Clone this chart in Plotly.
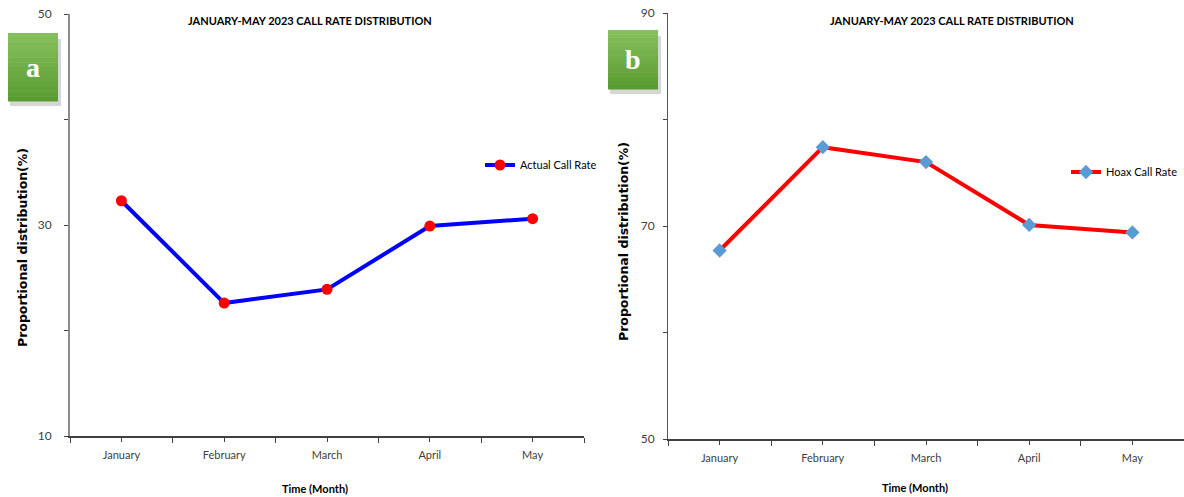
import plotly.graph_objects as go

months = ["January", "February", "March", "April", "May"]
actual_call_rate = [32.3, 22.6, 23.9, 29.9, 30.6]
hoax_call_rate = [67.7, 77.4, 76.0, 70.1, 69.4]
title_text = "JANUARY-MAY 2023 CALL RATE DISTRIBUTION"
y_title = "Proportional distribution(%)"
x_title = "Time (Month)"

W, H = 1184, 497
def px(x):
    return x / W
def py(y):
    return 1 - y / H

x_idx = list(range(len(months)))
NARROW = "Lato, Roboto, Liberation Sans, sans-serif"

fig = go.Figure()
fig.add_trace(go.Scatter(
    x=x_idx, y=actual_call_rate, name="Actual Call Rate", mode="lines+markers",
    line=dict(color="#0000ff", width=4),
    marker=dict(color="#ff0000", size=11, symbol="circle"),
    xaxis="x", yaxis="y", legend="legend"))
fig.add_trace(go.Scatter(
    x=x_idx, y=hoax_call_rate, name="Hoax Call Rate", mode="lines+markers",
    line=dict(color="#ff0000", width=4),
    marker=dict(color="#5b9bd5", size=11, symbol="diamond"),
    xaxis="x2", yaxis="y2", legend="legend2"))

def xaxis_cfg(domain, anchor):
    return dict(domain=domain, anchor=anchor, range=[-0.5, len(months) - 0.5],
                tickvals=x_idx, ticktext=months, ticks="outside", ticklen=4,
                tickcolor="#404040", showline=True, linecolor="#404040", linewidth=1.5,
                showgrid=False, zeroline=False, fixedrange=True, ticklabelstandoff=4,
                minor=dict(tick0=-0.5, dtick=1, ticks="outside", ticklen=5, tickcolor="#404040"),
                tickfont=dict(family=NARROW, size=11, color="#404040"))

def yaxis_cfg(domain, anchor, rng, vals, linecolor, lw, standoff):
    return dict(domain=domain, anchor=anchor, range=rng, tickvals=vals,
                ticks="outside", ticklen=4, tickcolor="#404040",
                showline=True, linecolor=linecolor, linewidth=lw,
                showgrid=False, zeroline=False, fixedrange=True, ticklabelstandoff=standoff,
                minor=dict(tick0=rng[0], dtick=10, ticks="outside", ticklen=4, tickcolor="#404040"),
                tickfont=dict(family=NARROW, size=12, color="#404040"))

fig.update_layout(
    width=W, height=H, margin=dict(l=0, r=0, t=0, b=0, autoexpand=False),
    paper_bgcolor="white", plot_bgcolor="white",
    xaxis=xaxis_cfg([px(70), px(584)], "y"),
    yaxis=yaxis_cfg([(H - 436) / H, (H - 14) / H], "x", [10, 50], [10, 30, 50], "#8c8c8c", 2, 10),
    xaxis2=xaxis_cfg([px(668), 1.0], "y2"),
    yaxis2=yaxis_cfg([(H - 439) / H, (H - 13) / H], "x2", [50, 90], [50, 70, 90], "#595959", 1, 6),
    legend=dict(x=px(480), y=py(165), xanchor="left", yanchor="middle",
                bgcolor="rgba(0,0,0,0)", itemwidth=30,
                font=dict(family=NARROW, size=11, color="#000000")),
    legend2=dict(x=px(1066), y=py(172), xanchor="left", yanchor="middle",
                 bgcolor="rgba(0,0,0,0)", itemwidth=30,
                 font=dict(family=NARROW, size=11, color="#000000")),
    showlegend=True,
)

annotations = []
for cx, ty in [(310, 20), (952, 21)]:
    annotations.append(dict(x=px(cx), y=py(ty), xref="paper", yref="paper", text=title_text,
                            showarrow=False, xanchor="center", yanchor="middle",
                            font=dict(family=NARROW, size=11, color="#000000", weight="bold")))
for cx, cy in [(23, 248), (623, 242)]:
    annotations.append(dict(x=px(cx), y=py(cy), xref="paper", yref="paper", text=y_title,
                            showarrow=False, textangle=-90, xanchor="center", yanchor="middle",
                            font=dict(family="DejaVu Sans, Verdana, sans-serif", size=12.5,
                                      color="#000000", weight="bold")))
for cx, cy in [(315, 488), (915, 487)]:
    annotations.append(dict(x=px(cx), y=py(cy), xref="paper", yref="paper", text=x_title,
                            showarrow=False, xanchor="center", yanchor="middle",
                            font=dict(family=NARROW, size=11, color="#000000", weight="bold")))

# green badges with a soft vertical gradient and drop shadow
top_rgb = (0x86, 0xc0, 0x5e)
bot_rgb = (0x5a, 0x9c, 0x30)
n_bands = 14
shapes = []
for (x0, y0, x1, y1, letter) in [(8, 33, 58, 101, "a"), (608, 30, 658, 89, "b")]:
    shapes.append(dict(type="rect", xref="paper", yref="paper",
                       x0=px(x0 + 2), x1=px(x1 + 3), y0=py(y1 + 5), y1=py(y0 + 6),
                       fillcolor="rgba(0,0,0,0.16)", line=dict(width=0), layer="below"))
    bh = (y1 - y0) / n_bands
    for i in range(n_bands):
        t = i / (n_bands - 1)
        c = tuple(round(a + (b - a) * t) for a, b in zip(top_rgb, bot_rgb))
        shapes.append(dict(type="rect", xref="paper", yref="paper",
                           x0=px(x0), x1=px(x1), y0=py(y0 + bh * (i + 1) + 0.5), y1=py(y0 + bh * i),
                           fillcolor="rgb(%d,%d,%d)" % c, line=dict(width=0)))
    annotations.append(dict(x=px((x0 + x1) / 2), y=py((y0 + y1) / 2), xref="paper", yref="paper",
                            text=letter, showarrow=False, xanchor="center", yanchor="middle",
                            font=dict(family="Liberation Serif, DejaVu Serif, serif", size=28,
                                      color="white", weight="bold")))

fig.update_layout(annotations=annotations, shapes=shapes)
fig.write_html("out.html", config={"displayModeBar": False},
               post_script="document.body.style.margin='0';document.body.style.overflow='hidden';")
